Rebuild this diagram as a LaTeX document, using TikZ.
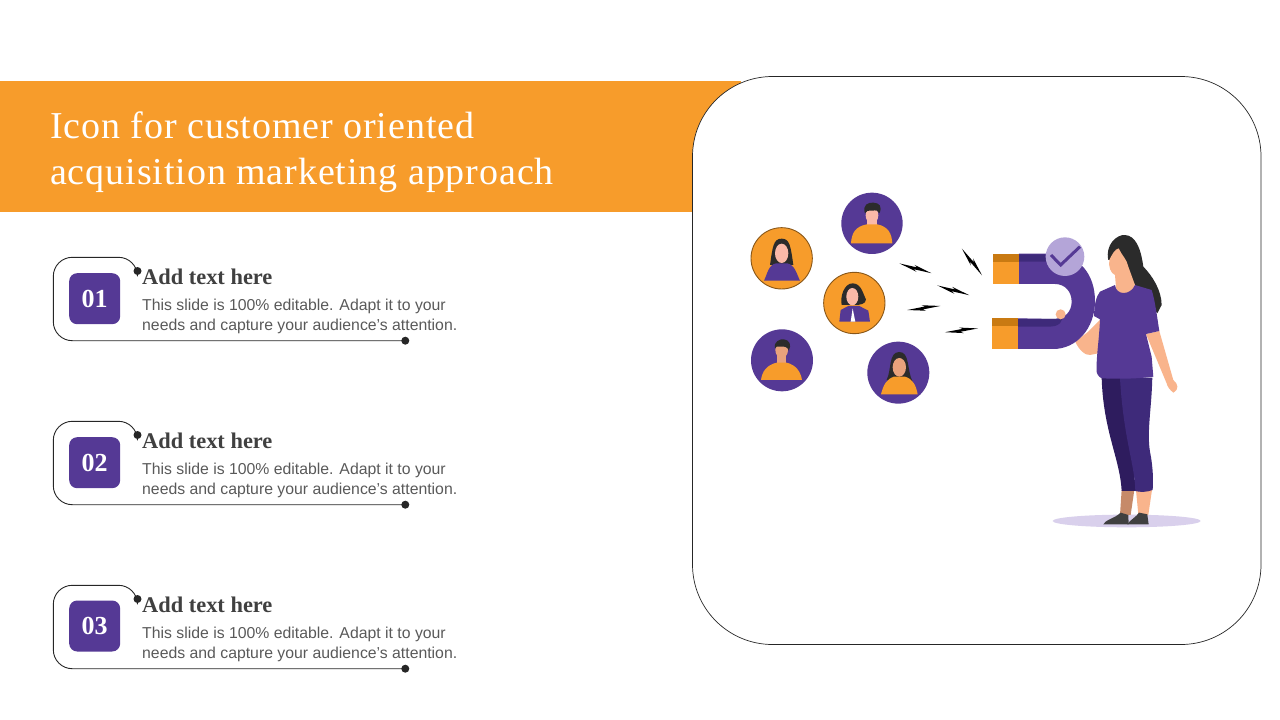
\documentclass[tikz,border=0pt]{standalone}
\usepackage{fontspec}
\setmainfont{Liberation Serif}
\setsansfont{Liberation Sans}
\newfontfamily\titlefont[LetterSpace=2.4]{Liberation Serif}
\definecolor{brandorange}{HTML}{F79C2B}
\definecolor{darkorange}{HTML}{C97A12}
\definecolor{brandpurple}{HTML}{553995}
\definecolor{deeppurple}{HTML}{3E2A7A}
\definecolor{inkpurple}{HTML}{2E1C5E}
\definecolor{palepurple}{HTML}{B4A5D8}
\definecolor{shadowpurple}{HTML}{D9D0EC}
\definecolor{skin}{HTML}{F9B48C}
\definecolor{skinpink}{HTML}{FAB9A8}
\definecolor{skindark}{HTML}{E9A27C}
\definecolor{hair}{HTML}{2B2B2B}
\definecolor{bodytext}{HTML}{595959}
\definecolor{headtext}{HTML}{404040}
\tikzset{
  panel/.style={draw=black!85,line width=0.7pt,fill=white,rounded corners=80pt,minimum width=568.5pt,minimum height=568pt,inner sep=0pt},
  badge/.style={fill=brandpurple,rounded corners=8pt,minimum size=51pt,inner sep=0pt,text=white,font=\fontsize{26}{26}\selectfont\bfseries},
  dotend/.style={circle,fill=black!85,minimum size=8pt,inner sep=0pt},
  frameline/.style={draw=black!85,line width=0.9pt,rounded corners=19pt},
  headline/.style={anchor=west,inner sep=0pt,text=headtext,font=\fontsize{22.4}{24}\selectfont\bfseries},
  bodyline/.style={anchor=west,inner sep=0pt,align=left,text=bodytext,font=\sffamily\fontsize{15.8}{19.5}\selectfont},
  ringed/.style={draw=black!45!brandorange,line width=0.9pt,fill=brandorange},
  zap/.pic={\fill[black] (-50,0) -- (4,-4) -- (-6,-9) -- (50,0) -- (-4,4) -- (6,9) -- cycle;}
}
\begin{document}
\begin{tikzpicture}[x=1pt,y=-1pt]
  \useasboundingbox (0,0) rectangle (1280,720);

  \fill[brandorange] (0,81) rectangle (741,212);
  \node[panel] (panel) at (976.75,360.5) {};
  \node[anchor=west,inner sep=0pt,align=left,text=white,font=\titlefont\fontsize{38}{46}\selectfont] (title) at (50,152.5)
    {Icon for customer oriented\\acquisition marketing approach};

  \node[badge] (badgeA) at (94.7,298.7) {01};
  \node[dotend] (startA) at (137.5,271) {};
  \node[dotend] (endA) at (405.3,340.7) {};
  \draw[frameline] (startA.center) |- (53.3,257.3) |- (endA.center);
  \node[headline] (headA) at (142,277) {Add text here};
  \node[bodyline] (textA) at (142,316.5) {This slide is 100\% editable. Adapt it to your\\needs and capture your audience’s attention.};

  \node[badge] (badgeB) at (94.7,462.7) {02};
  \node[dotend] (startB) at (137.5,435) {};
  \node[dotend] (endB) at (405.3,504.7) {};
  \draw[frameline] (startB.center) |- (53.3,421.3) |- (endB.center);
  \node[headline] (headB) at (142,441) {Add text here};
  \node[bodyline] (textB) at (142,480.5) {This slide is 100\% editable. Adapt it to your\\needs and capture your audience’s attention.};

  \node[badge] (badgeC) at (94.7,626) {03};
  \node[dotend] (startC) at (137.5,599) {};
  \node[dotend] (endC) at (405.3,668.7) {};
  \draw[frameline] (startC.center) |- (53.3,585.3) |- (endC.center);
  \node[headline] (headC) at (142,605) {Add text here};
  \node[bodyline] (textC) at (142,644.5) {This slide is 100\% editable. Adapt it to your\\needs and capture your audience’s attention.};

  % avatars and sparks
  \begin{scope}[shift={(740,180)},x=0.3333pt,y=-0.3333pt]
    \fill[brandpurple] (396,130) circle[radius=92];
    \fill[skinpink] (382,100) rectangle (410,145);
    \fill[skinpink] (396,106) ellipse[x radius=19,y radius=25];
    \fill[brandorange] (333,190) .. controls (335,160) and (345,140) .. (380,133) -- (412,133) .. controls (445,140) and (455,160) .. (457,190) -- cycle;
    \fill[hair] (375,100) .. controls (366,75) and (385,66) .. (400,68) .. controls (418,68) and (428,80) .. (418,100) .. controls (416,92) and (410,90) .. (395,92) .. controls (384,92) and (378,92) .. (375,100) -- cycle;

    \draw[ringed] (125,235) circle[radius=92];
    \fill[hair] (90,255) .. controls (98,200) and (100,176) .. (125,176) .. controls (150,176) and (152,200) .. (160,255) -- cycle;
    \fill[skinpink] (125,220) ellipse[x radius=20,y radius=29];
    \fill[brandpurple] (72,302) .. controls (82,282) and (85,255) .. (108,250) -- (142,250) .. controls (165,255) and (170,282) .. (180,302) -- cycle;

    \draw[ringed] (343,369) circle[radius=92];
    \fill[hair] (305,375) .. controls (300,350) and (312,310) .. (338,310) .. controls (365,310) and (370,345) .. (378,358) .. controls (378,372) and (360,376) .. (340,375) -- cycle;
    \fill[skinpink] (337,350) ellipse[x radius=18,y radius=26];
    \fill[brandpurple] (298,425) -- (302,390) -- (325,378) -- (358,378) -- (385,392) -- (390,425) -- cycle;
    \fill[white] (332,425) -- (338,385) -- (346,425) -- cycle;

    \fill[brandpurple] (126,541) circle[radius=93];
    \fill[skindark] (112,510) rectangle (138,555);
    \fill[skindark] (125,510) ellipse[x radius=19,y radius=24];
    \fill[brandorange] (63,600) .. controls (66,575) and (80,555) .. (110,548) -- (140,548) .. controls (168,555) and (182,575) .. (186,600) -- cycle;
    \fill[hair] (105,505) .. controls (100,485) and (120,476) .. (132,478) .. controls (148,480) and (156,495) .. (146,512) .. controls (144,502) and (135,498) .. (120,500) .. controls (112,498) and (108,500) .. (105,505) -- cycle;

    \fill[brandpurple] (475,578) circle[radius=93];
    \fill[hair] (440,600) .. controls (455,570) and (445,516) .. (478,516) .. controls (510,516) and (500,570) .. (518,605) -- cycle;
    \fill[skindark] (478,562) ellipse[x radius=20,y radius=28];
    \fill[brandorange] (423,643) .. controls (430,615) and (440,597) .. (462,590) -- (495,590) .. controls (518,597) and (528,615) .. (533,643) -- cycle;

    \pic[rotate=-17] at (526.5,265) {zap};
    \pic[rotate=-17] at (640,331) {zap};
    \pic[rotate=7] at (551.5,384) {zap};
    \pic[rotate=6.5] at (664.5,451) {zap};
    \pic[rotate=-53] at (696,246) {zap};
  \end{scope}

  % woman with magnet
  \begin{scope}[shift={(890,225)},x=0.3333pt,y=-0.3333pt]
    \fill[shadowpurple] (710,888) ellipse[x radius=222,y radius=19];
    \fill[skin] (630,285) -- (595,320) -- (556,350) .. controls (565,372) and (585,392) .. (600,390) -- (625,385) -- (640,320) -- cycle;

    % magnet
    \fill[brandpurple] (387,86) -- (490,86) .. controls (570,90) and (615,150) .. (615,228) .. controls (615,310) and (560,372) .. (490,372) -- (383,372) -- (383,280) -- (495,282) .. controls (525,280) and (545,260) .. (545,230) .. controls (545,200) and (525,177) .. (495,177) -- (387,177) -- cycle;
    \fill[deeppurple] (387,88) -- (465,88) -- (470,110) -- (387,110) -- cycle;
    \fill[deeppurple] (383,282) -- (495,282) .. controls (505,282) and (515,278) .. (522,272) -- (510,295) .. controls (500,303) and (490,305) .. (480,305) -- (383,305) -- cycle;
    \fill[brandorange] (310,86) rectangle (387,177);
    \fill[darkorange] (310,86) rectangle (387,110);
    \fill[brandorange] (306,280) rectangle (383,372);
    \fill[darkorange] (306,280) rectangle (383,304);
    \fill[palepurple] (525,95) circle[radius=58];
    \draw[brandpurple,line width=3pt] (483,90) -- (512,120) -- (570,65);
    \fill[skin] (512,268) circle[radius=15];

    % legs and shoes
    \fill[skindark!85!black] (695,795) -- (733,795) -- (722,870) -- (690,870) -- cycle;
    \fill[skin] (738,795) -- (786,795) -- (775,870) -- (745,868) -- cycle;
    \fill[inkpurple] (635,458) -- (700,458) -- (738,798) -- (695,798) .. controls (690,700) and (640,620) .. (635,458) -- cycle;
    \fill[deeppurple] (690,458) -- (787,458) .. controls (785,550) and (770,620) .. (780,680) .. controls (790,730) and (790,770) .. (788,795) .. controls (770,802) and (750,802) .. (736,798) .. controls (735,720) and (700,640) .. (690,458) -- cycle;
    \fill[black!75] (640,898) .. controls (645,885) and (675,880) .. (692,863) -- (715,870) -- (716,898) -- cycle;
    \fill[black!75] (712,898) .. controls (720,885) and (740,875) .. (747,863) -- (772,868) -- (776,898) -- cycle;

    % hair, head, arm, shirt
    \fill[hair] (655,105) .. controls (645,60) and (680,28) .. (705,30) .. controls (735,32) and (752,65) .. (760,125) .. controls (785,150) and (815,195) .. (815,240) -- (802,265) -- (735,180) -- (690,100) -- cycle;
    \fill[skin] (658,105) .. controls (665,90) and (675,72) .. (686,70) .. controls (695,90) and (712,105) .. (715,125) -- (735,180) -- (725,207) -- (680,209) -- (675,150) .. controls (662,145) and (655,125) .. (658,105) -- cycle;
    \fill[skin] (768,327) -- (808,318) -- (850,465) .. controls (865,478) and (868,492) .. (850,503) .. controls (840,495) and (832,485) .. (830,475) -- cycle;
    \fill[brandpurple] (675,180) .. controls (678,212) and (722,212) .. (735,180) -- (785,195) .. controls (795,225) and (802,280) .. (808,318) -- (768,327) -- (785,395) -- (790,455) .. controls (740,462) and (680,462) .. (635,460) .. controls (625,455) and (620,445) .. (620,440) .. controls (618,400) and (628,340) .. (630,283) -- (612,273) .. controls (613,240) and (618,215) .. (630,200) -- cycle;
  \end{scope}
\end{tikzpicture}
\end{document}
